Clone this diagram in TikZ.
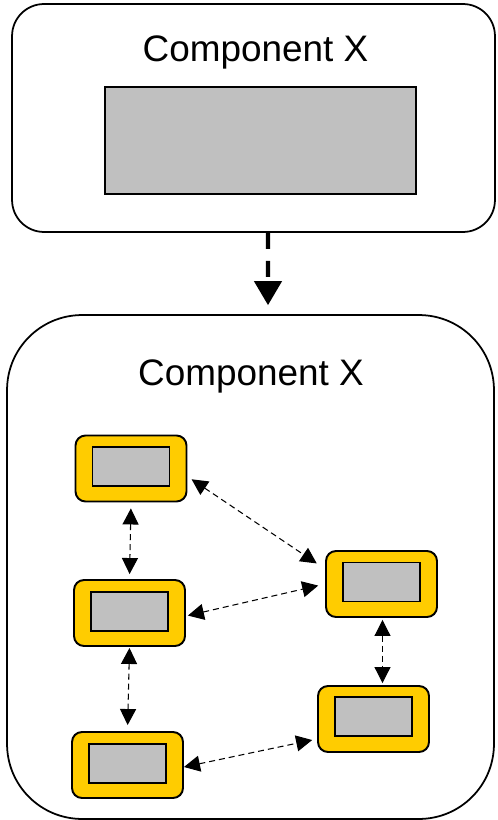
\documentclass[tikz,border=0pt]{standalone}
\usepackage{xcolor}
\usepackage{fontspec}
\setmainfont{Liberation Sans}
\usetikzlibrary{arrows.meta}

\definecolor{partYellow}{HTML}{FFCC00}
\definecolor{coreGray}{HTML}{C0C0C0}

\begin{document}
\begin{tikzpicture}[x=0.02cm, y=-0.02cm,
    comp/.style={draw, line width=1pt, fill=white, inner sep=0pt},
    title/.style={anchor=base, font=\fontsize{21}{25}\selectfont},
    part/.style={draw, line width=1.1pt, fill=partYellow, rounded corners=0.2cm,
      minimum width=2.22cm, minimum height=1.32cm, inner sep=0pt},
    core/.style={draw, line width=1pt, fill=coreGray,
      minimum width=1.54cm, minimum height=0.78cm, inner sep=0pt},
    link/.style={{Triangle[length=0.32cm,width=0.32cm]}-{Triangle[length=0.32cm,width=0.32cm]},
      line width=0.6pt, dash pattern=on 0.12cm off 0.08cm},
    bigarrow/.style={-{Triangle[length=0.48cm,width=0.54cm]},
      line width=2.4pt, dash pattern=on 0.32cm off 0.24cm}]

\useasboundingbox (0,0) rectangle (497,820);

% Componente original
\node[comp, rounded corners=0.64cm, minimum width=9.66cm, minimum height=4.56cm]
  (topbox) at (253.5,118) {};
\node[title] (toptitle) at (255.5,62) {Component X};
\node[draw, line width=1pt, fill=coreGray, minimum width=6.22cm, minimum height=2.14cm,
  inner sep=0pt] (topcore) at (260.5,140.5) {};

% Componente decomposto
\node[comp, rounded corners=1.5cm, minimum width=9.74cm, minimum height=10.08cm]
  (botbox) at (250.5,567) {};
\node[title] (bottitle) at (251,385) {Component X};

% Seta de refinamento
\draw[bigarrow, shorten >=0.18cm] ([xshift=0.29cm]topbox.south) -- ([xshift=0.35cm]botbox.north);

% Partes internas
\node[part] (A) at (131,468.5) {};
\node[core] (Ain) at ([yshift=0.04cm]A.center) {};
\node[part] (B) at (129.5,613) {};
\node[core] (Bin) at ([yshift=0.03cm]B.center) {};
\node[part] (C) at (127.5,765) {};
\node[core] (Cin) at ([yshift=0.03cm]C.center) {};
\node[part] (D) at (381.5,584) {};
\node[core] (Din) at ([yshift=0.04cm]D.center) {};
\node[part] (E) at (373.5,719) {};
\node[core] (Ein) at ([yshift=0.05cm]E.center) {};

% Ligações entre as partes
\draw[link, shorten <=0.12cm, shorten >=0.1cm] (A.south) -- (B.north);
\draw[link, shorten <=0.02cm, shorten >=0.12cm] (B.south) -- (C.north);
\draw[link, shorten <=0.04cm, shorten >=0.04cm] ([xshift=0.02cm]D.south) -- ([xshift=0.02cm]D.south |- E.north);
\draw[link, shorten <=0.1cm, shorten >=0.2cm] ([yshift=-0.16cm]A.east) -- ([yshift=0.3cm]D.west);
\draw[link, shorten <=0.04cm, shorten >=0.14cm] ([yshift=-0.06cm]B.east) -- (D.west);
\draw[link, shorten >=0.1cm] ([yshift=-0.04cm]C.east) -- ([yshift=-0.4cm]E.west);

\end{tikzpicture}
\end{document}
